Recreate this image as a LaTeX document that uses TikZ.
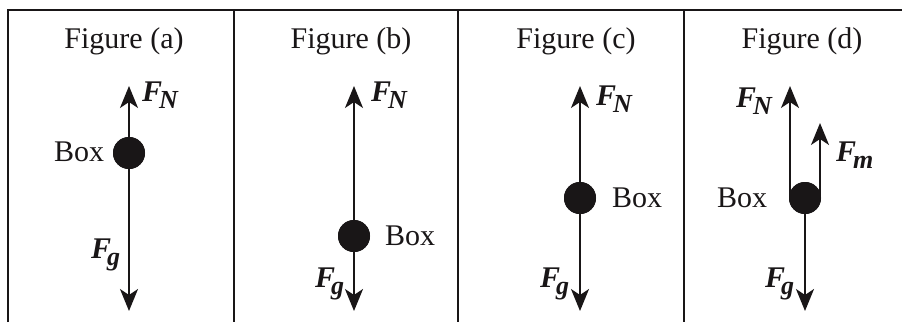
\documentclass[tikz,border=0pt]{standalone}
\usepackage{fontspec}
\setmainfont{Liberation Serif}
\usetikzlibrary{arrows.meta,positioning}
\definecolor{inkblack}{RGB}{25,22,23}
\newcommand{\forcelbl}[2][-3pt]{{\bfseries\itshape F\kern#1\raisebox{-7pt}{\fontsize{26}{26}\selectfont #2}}}
\tikzset{
  frame/.style={draw=inkblack, line width=2pt},
  force/.style={-{Stealth[length=22pt,width=18pt,inset=6pt]}, line width=2pt, draw=inkblack},
  dot/.style={circle, fill=inkblack, minimum size=32pt, inner sep=0pt},
  title/.style={anchor=base, inner sep=0pt, font=\fontsize{30}{34}\selectfont, text=inkblack},
  boxlabel/.style={anchor=base west, inner sep=0pt, font=\fontsize{30}{34}\selectfont, text=inkblack},
  flabel/.style={anchor=base west, inner sep=0pt, font=\fontsize{30}{34}\selectfont, text=inkblack}
}
\begin{document}
\begin{tikzpicture}[x=1pt, y=-1pt]
  \useasboundingbox (0,0) rectangle (902,322);

  % --- frame ---
  \draw[frame] (8,322) -- (8,10) -- (902,10);
  \foreach \xd in {234,458,684}
    \draw[frame] (\xd,10) -- (\xd,322);

  % --- titles ---
  \node[title] (titlea) at (124,48) {Figure (a)};
  \node[title] (titleb) at (351,48) {Figure (b)};
  \node[title] (titlec) at (576,48) {Figure (c)};
  \node[title] (titled) at (802,48) {Figure (d)};

  % --- panel (a) ---
  \coordinate (topa) at (129,86);
  \coordinate (bota) at (129,311);
  \node[dot] (dota) at (129,153) {};
  \draw[force] (dota.center) -- (topa);
  \draw[force] (dota.center) -- (bota);
  \node[dot] at (dota) {};
  \node[boxlabel] (boxa) at (54,161) {Box};
  \node[flabel] (fna) at (142,101) {\forcelbl{N}};
  \node[flabel] (fga) at (91,258) {\forcelbl[-4pt]{g}};

  % --- panel (b) ---
  \coordinate (topb) at (354,86);
  \coordinate (botb) at (354,311);
  \node[dot] (dotb) at (354,236) {};
  \draw[force] (dotb.center) -- (topb);
  \draw[force] (dotb.center) -- (botb);
  \node[dot] at (dotb) {};
  \node[boxlabel] (boxb) at (385,245) {Box};
  \node[flabel] (fnb) at (371,101) {\forcelbl{N}};
  \node[flabel] (fgb) at (315,287) {\forcelbl[-4pt]{g}};

  % --- panel (c) ---
  \coordinate (topc) at (580,86);
  \coordinate (botc) at (580,311);
  \node[dot] (dotc) at (580,198) {};
  \draw[force] (dotc.center) -- (topc);
  \draw[force] (dotc.center) -- (botc);
  \node[dot] at (dotc) {};
  \node[boxlabel] (boxc) at (612,207) {Box};
  \node[flabel] (fnc) at (596,105) {\forcelbl{N}};
  \node[flabel] (fgc) at (540,287) {\forcelbl[-4pt]{g}};

  % --- panel (d) ---
  \coordinate (startnd) at (790,198);
  \coordinate (topd) at (790,86);
  \coordinate (startmd) at (820,198);
  \coordinate (topmd) at (820,123);
  \coordinate (botd) at (805,311);
  \node[dot] (dotd) at (805,198) {};
  \draw[force] (startnd) -- (topd);
  \draw[force] (startmd) -- (topmd);
  \draw[force] (dotd.center) -- (botd);
  \node[dot] at (dotd) {};
  \node[boxlabel] (boxd) at (717,207) {Box};
  \node[flabel] (fnd) at (736,107) {\forcelbl{N}};
  \node[flabel] (fmd) at (836,161) {\forcelbl{m}};
  \node[flabel] (fgd) at (765,287) {\forcelbl[-4pt]{g}};

\end{tikzpicture}
\end{document}
